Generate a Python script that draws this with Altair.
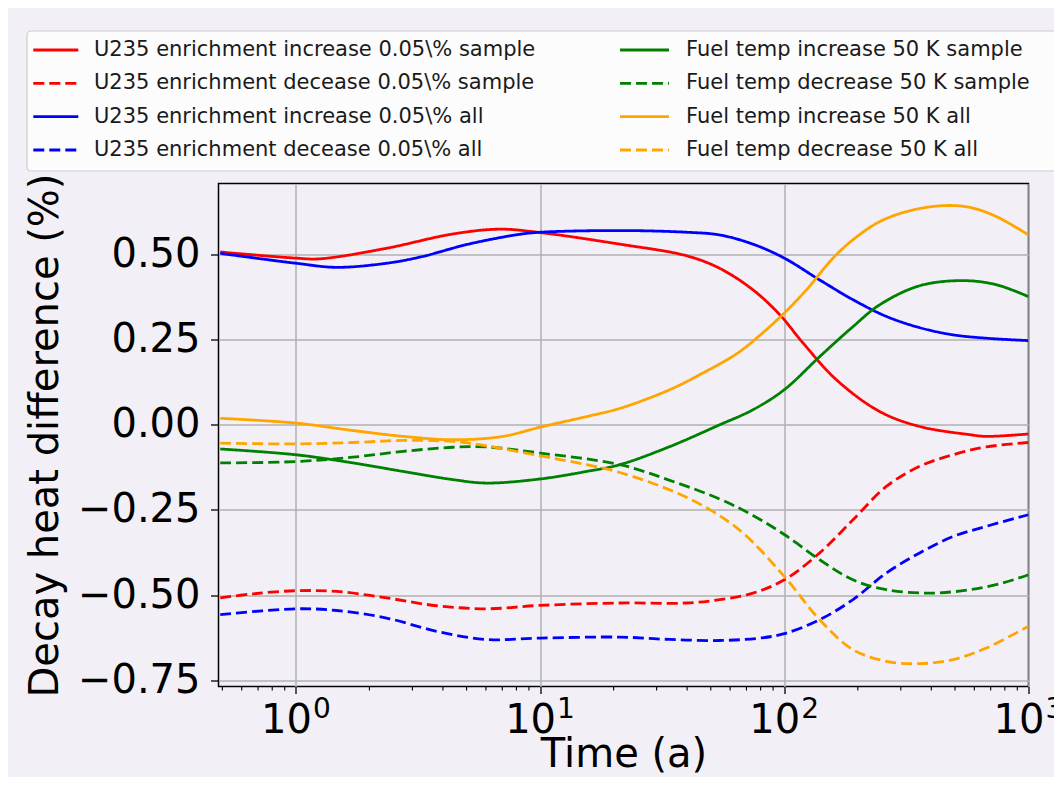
import altair as alt
import pandas as pd

# ---------------- data ----------------
NAMES = [
    "U235 enrichment increase 0.05\\% sample",
    "U235 enrichment decease 0.05\\% sample",
    "U235 enrichment increase 0.05\\% all",
    "U235 enrichment decease 0.05\\% all",
    "Fuel temp increase 50 K sample",
    "Fuel temp decrease 50 K sample",
    "Fuel temp increase 50 K all",
    "Fuel temp decrease 50 K all",
]
COLORS = ["#ff0000", "#ff0000", "#0000ff", "#0000ff",
          "#008000", "#008000", "#ffa500", "#ffa500"]
DASHES = [[1, 0], [11, 5], [1, 0], [11, 5], [1, 0], [11, 5], [1, 0], [11, 5]]

T_U_INC_S = [0.49, 1.0, 1.254, 2.351, 4.405, 6.839, 10, 21.2, 39.75, 54.4, 74.4, 95.8, 119.3, 163.5, 245.7, 358.3, 574.2, 671.9, 1000]
V_U_INC_S = [0.507, 0.489, 0.487, 0.518, 0.560, 0.574, 0.564, 0.530, 0.496, 0.459, 0.396, 0.323, 0.240, 0.132, 0.039, -0.005, -0.029, -0.034, -0.027]

T_U_DEC_S = [0.49, 0.669, 1, 1.468, 2.351, 3.766, 6.034, 10, 21.2, 39.75, 54.4, 74.4, 100, 139.6, 191.1, 261.8, 358.3, 490.5, 671.9, 1000]
V_U_DEC_S = [-0.508, -0.496, -0.487, -0.489, -0.508, -0.531, -0.540, -0.530, -0.523, -0.523, -0.513, -0.494, -0.455, -0.376, -0.279, -0.181, -0.122, -0.088, -0.065, -0.052]

T_U_INC_A = [0.49, 1, 1.468, 2.351, 3.218, 5.155, 8.259, 10, 21.2, 39.75, 54.4, 74.4, 100, 139.6, 191.1, 261.8, 358.3, 490.5, 671.9, 1000]
V_U_INC_A = [0.503, 0.474, 0.462, 0.474, 0.492, 0.531, 0.559, 0.565, 0.570, 0.565, 0.557, 0.530, 0.489, 0.425, 0.367, 0.318, 0.285, 0.264, 0.254, 0.247]

T_U_DEC_A = [0.49, 1, 1.468, 2.351, 3.766, 6.034, 10, 21.2, 33.96, 54.4, 79.3, 100, 139.6, 191.1, 261.8, 358.3, 490.5, 671.9, 1000]
V_U_DEC_A = [-0.557, -0.540, -0.545, -0.567, -0.606, -0.630, -0.626, -0.623, -0.630, -0.633, -0.626, -0.613, -0.572, -0.513, -0.435, -0.376, -0.328, -0.298, -0.264]

T_F_INC_S = [0.49, 1, 1.716, 2.750, 4.405, 6.034, 10, 15.49, 21.2, 33.96, 54.4, 74.4, 100, 139.6, 191.1, 245.7, 358.3, 538.9, 738.5, 1000]
V_F_INC_S = [-0.071, -0.088, -0.112, -0.137, -0.161, -0.171, -0.159, -0.137, -0.117, -0.064, 0.000, 0.044, 0.103, 0.200, 0.288, 0.352, 0.408, 0.423, 0.411, 0.376]

T_F_DEC_S = [0.49, 1, 1.716, 2.750, 4.405, 6.034, 10, 21.2, 33.96, 54.4, 74.4, 100, 139.6, 191.1, 261.8, 393.8, 574.2, 785.8, 1000]
V_F_DEC_S = [-0.112, -0.108, -0.095, -0.078, -0.066, -0.065, -0.083, -0.117, -0.163, -0.218, -0.266, -0.322, -0.396, -0.455, -0.484, -0.494, -0.484, -0.464, -0.440]

T_F_INC_A = [0.49, 1, 1.716, 2.750, 4.405, 7.058, 10, 15.49, 21.2, 33.96, 46.47, 63.7, 79.3, 100, 123.2, 158.3, 191.1, 245.7, 326.1, 446.3, 574.2, 738.5, 1000]
V_F_INC_A = [0.019, 0.005, -0.017, -0.034, -0.044, -0.034, -0.007, 0.024, 0.048, 0.103, 0.152, 0.208, 0.262, 0.328, 0.396, 0.489, 0.543, 0.596, 0.628, 0.643, 0.638, 0.611, 0.557]

T_F_DEC_A = [0.49, 1, 1.716, 2.750, 4.405, 6.034, 10, 15.49, 21.2, 33.96, 49.5, 67.8, 100, 139.6, 191.1, 261.8, 358.3, 490.5, 671.9, 1000]
V_F_DEC_A = [-0.054, -0.056, -0.052, -0.046, -0.049, -0.062, -0.091, -0.117, -0.140, -0.191, -0.249, -0.318, -0.445, -0.572, -0.660, -0.694, -0.701, -0.689, -0.655, -0.591]

SERIES_T = [T_U_INC_S, T_U_DEC_S, T_U_INC_A, T_U_DEC_A, T_F_INC_S, T_F_DEC_S, T_F_INC_A, T_F_DEC_A]
SERIES_V = [V_U_INC_S, V_U_DEC_S, V_U_INC_A, V_U_DEC_A, V_F_INC_S, V_F_DEC_S, V_F_INC_A, V_F_DEC_A]

X_MAJOR = [1, 10, 100, 1000]
X_EXPONENTS = ["0", "1", "2", "3"]
X_MINOR = [0.5, 0.6, 0.7, 0.8, 0.9, 2, 3, 4, 5, 6, 7, 8, 9,
           20, 30, 40, 50, 60, 70, 80, 90, 200, 300, 400, 500, 600, 700, 800, 900]
Y_TICKS = [-0.75, -0.5, -0.25, 0.0, 0.25, 0.5]

X_DOMAIN = [0.482, 1000]
Y_DOMAIN = [-0.768, 0.708]

# ---------------- layout ----------------
W, H = 810, 503
FONT = "DejaVu Sans"
BIG = 40
LEG = 21

rows = []
for name, ts, vs in zip(NAMES, SERIES_T, SERIES_V):
    for t, v in zip(ts, vs):
        rows.append({"t": t, "v": v, "series": name})
df = pd.DataFrame(rows)

xscale = alt.Scale(type="log", domain=X_DOMAIN, nice=False)
yscale = alt.Scale(domain=Y_DOMAIN, nice=False, zero=False)

XAXIS = alt.Axis(
    values=X_MAJOR, labelExpr="'10'", title="Time (a)",
    grid=True, gridColor="#b0b0b0", gridWidth=1.5,
    ticks=True, tickSize=7, tickColor="black", tickWidth=1.3,
    domain=False, labelFontSize=BIG, labelFont=FONT, labelColor="black",
    labelFlush=False, labelBound=False, labelOverlap=False,
    labelBaseline="alphabetic", labelPadding=39, labelOffset=-10, labelAlign="center",
    titleFontSize=BIG, titleFont=FONT, titleFontWeight="normal", titleColor="black",
    titleX=W / 2, titleY=80, titleBaseline="alphabetic", titleAlign="center")

lines = alt.Chart(df).mark_line(strokeWidth=2.8, interpolate="catmull-rom", clip=True).encode(
    x=alt.X("t:Q", scale=xscale, axis=XAXIS),
    y=alt.Y("v:Q", scale=yscale, axis=alt.Axis(
        values=Y_TICKS, labelExpr="replace(format(datum.value, '.2f'), '-', '\u2212')",
        title="Decay heat difference (%)",
        grid=True, gridColor="#b0b0b0", gridWidth=1.5,
        ticks=True, tickSize=8, tickColor="black", tickWidth=1.3,
        domain=False, labelFontSize=BIG, labelFont=FONT, labelColor="black",
        labelFlush=False, labelBound=False, labelOverlap=False, labelPadding=10.5,
        titleFontSize=BIG, titleFont=FONT, titleFontWeight="normal", titleColor="black",
        titleX=-173, titleY=H / 2, titleAngle=270, titleBaseline="middle", titleAlign="center")),
    color=alt.Color("series:N", scale=alt.Scale(domain=NAMES, range=COLORS), legend=None),
    strokeDash=alt.StrokeDash("series:N", scale=alt.Scale(domain=NAMES, range=DASHES), legend=None),
    detail="series:N",
)

minor = alt.Chart(pd.DataFrame({"t": X_MINOR})).mark_rule(color="black", strokeWidth=1.1).encode(
    x=alt.X("t:Q", scale=xscale, axis=XAXIS),
    y=alt.value(H), y2=alt.value(H + 4),
)

exps = alt.Chart(pd.DataFrame({"t": X_MAJOR, "e": X_EXPONENTS})).mark_text(
    font=FONT, fontSize=28, align="left", baseline="alphabetic", dx=17, color="black"
).encode(
    x=alt.X("t:Q", scale=xscale, axis=XAXIS),
    y=alt.value(H + 31.5),
    text="e:N",
)

layers = [lines, minor, exps]

# legend box
box = alt.Chart(alt.Data(values=[{"a": 1}])).mark_rect(
    fill="white", fillOpacity=0.8, stroke="#cccccc", strokeWidth=1.2, cornerRadius=4
).encode(x=alt.value(-191.5), x2=alt.value(870), y=alt.value(-152.5), y2=alt.value(-12.5))
layers.append(box)

ROW_Y = [-133.5, -100.2, -66.8, -33.5]
COL_LINE = [(-185.2, -140.2), (401.5, 450.5)]
COL_TEXT = [-124.5, 467.5]
for i, (name, col, dash) in enumerate(zip(NAMES, COLORS, DASHES)):
    c, r = divmod(i, 4)
    d = alt.Data(values=[{"label": name}])
    layers.append(alt.Chart(d).mark_rule(color=col, strokeWidth=2.8, strokeDash=dash).encode(
        x=alt.value(COL_LINE[c][0]), x2=alt.value(COL_LINE[c][1]), y=alt.value(ROW_Y[r])))
    layers.append(alt.Chart(d).mark_text(
        font=FONT, fontSize=LEG, align="left", baseline="middle", color="#1a1a1a").encode(
        x=alt.value(COL_TEXT[c]), y=alt.value(ROW_Y[r]), text="label:N"))

chart = alt.layer(*layers).properties(
    width=W, height=H,
    padding={"left": 210.5, "top": 175.5, "right": 25.5, "bottom": 90.5},
    autosize=alt.AutoSizeParams(type="none"),
    background="#f2f0f6",
).configure_view(stroke="black", strokeWidth=1.5)

chart.save("out.html", embed_options={"renderer": "svg", "actions": False})
